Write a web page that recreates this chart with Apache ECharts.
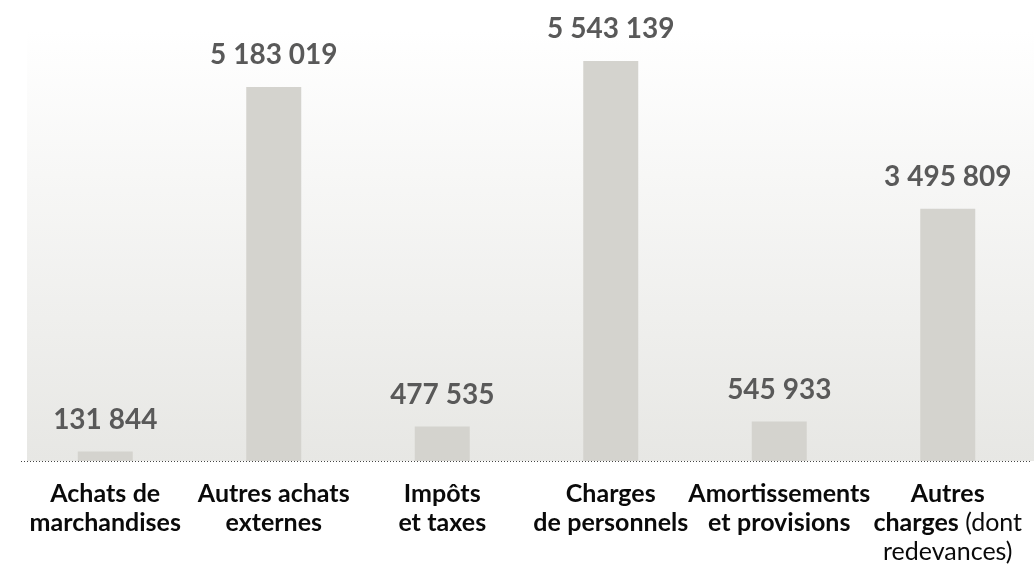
<!DOCTYPE html>
<html>
<head>
<meta charset="utf-8">
<script src="https://cdn.jsdelivr.net/npm/echarts@6/dist/echarts.min.js"></script>
<style>
  html, body { margin: 0; padding: 0; background: #fff; }
  #chart { width: 1034px; height: 569px; }
</style>
</head>
<body>
<div id="chart"></div>
<script>
const categories = [
  'Achats de\nmarchandises',
  'Autres achats\nexternes',
  'Impôts\net taxes',
  'Charges\nde personnels',
  'Amortissements\net provisions',
  'Autres\ncharges (dont\nredevances)'
];
const amounts = [131844, 5183019, 477535, 5543139, 545933, 3495809];

const FONT = 'Lato, "Open Sans", sans-serif';

// text in parentheses is set in regular weight, the rest in bold
const richLabel = (label) => {
  let inParen = false;
  return label.split('\n').map((line) => line.split(' ').map((word) => {
    if (word.startsWith('(')) inParen = true;
    const out = `{${inParen ? 'r' : 'b'}|${word}}`;
    if (word.endsWith(')')) inParen = false;
    return out;
  }).join(' ')).join('\n');
};

const fmtNumber = (v) => String(v).replace(/\B(?=(\d{3})+(?!\d))/g, ' ');

const chart = echarts.init(document.getElementById('chart'));

chart.setOption({
  animation: false,
  backgroundColor: '#ffffff',
  graphic: [{
    type: 'rect',
    z: -10,
    shape: { x: 27, y: 30, width: 1007, height: 431 },
    style: {
      fill: {
        type: 'linear', x: 0, y: 0, x2: 0, y2: 1,
        colorStops: [
          { offset: 0, color: '#ffffff' },
          { offset: 1, color: '#e7e7e4' }
        ]
      }
    }
  }],
  grid: { left: 21, right: 2, top: 28, bottom: 108 },
  xAxis: {
    type: 'category',
    data: categories,
    axisTick: { show: false },
    axisLine: { show: false },
    axisLabel: {
      interval: 0,
      margin: 18,
      fontFamily: FONT,
      fontSize: 25,
      lineHeight: 29,
      color: '#0a0a0a',
      formatter: (v) => richLabel(v),
      rich: {
        b: { fontFamily: FONT, fontSize: 25, fontWeight: 'bold', color: '#0a0a0a', lineHeight: 29 },
        r: { fontFamily: FONT, fontSize: 25, fontWeight: 'normal', color: '#0a0a0a', lineHeight: 29 }
      }
    }
  },
  yAxis: {
    type: 'value',
    min: 0,
    max: 6000000,
    show: false
  },
  series: [{
    type: 'bar',
    data: amounts,
    barWidth: 55,
    itemStyle: { color: '#d4d3ce' },
    label: {
      show: true,
      position: 'top',
      distance: 18,
      fontFamily: FONT,
      fontSize: 28,
      fontWeight: 'bold',
      color: '#595959',
      formatter: (p) => fmtNumber(p.value)
    },
    markLine: {
      silent: true,
      symbol: 'none',
      label: { show: false },
      lineStyle: { color: '#444', type: [1, 2], width: 1 },
      data: [{ yAxis: 0 }]
    }
  }]
});
</script>
</body>
</html>
